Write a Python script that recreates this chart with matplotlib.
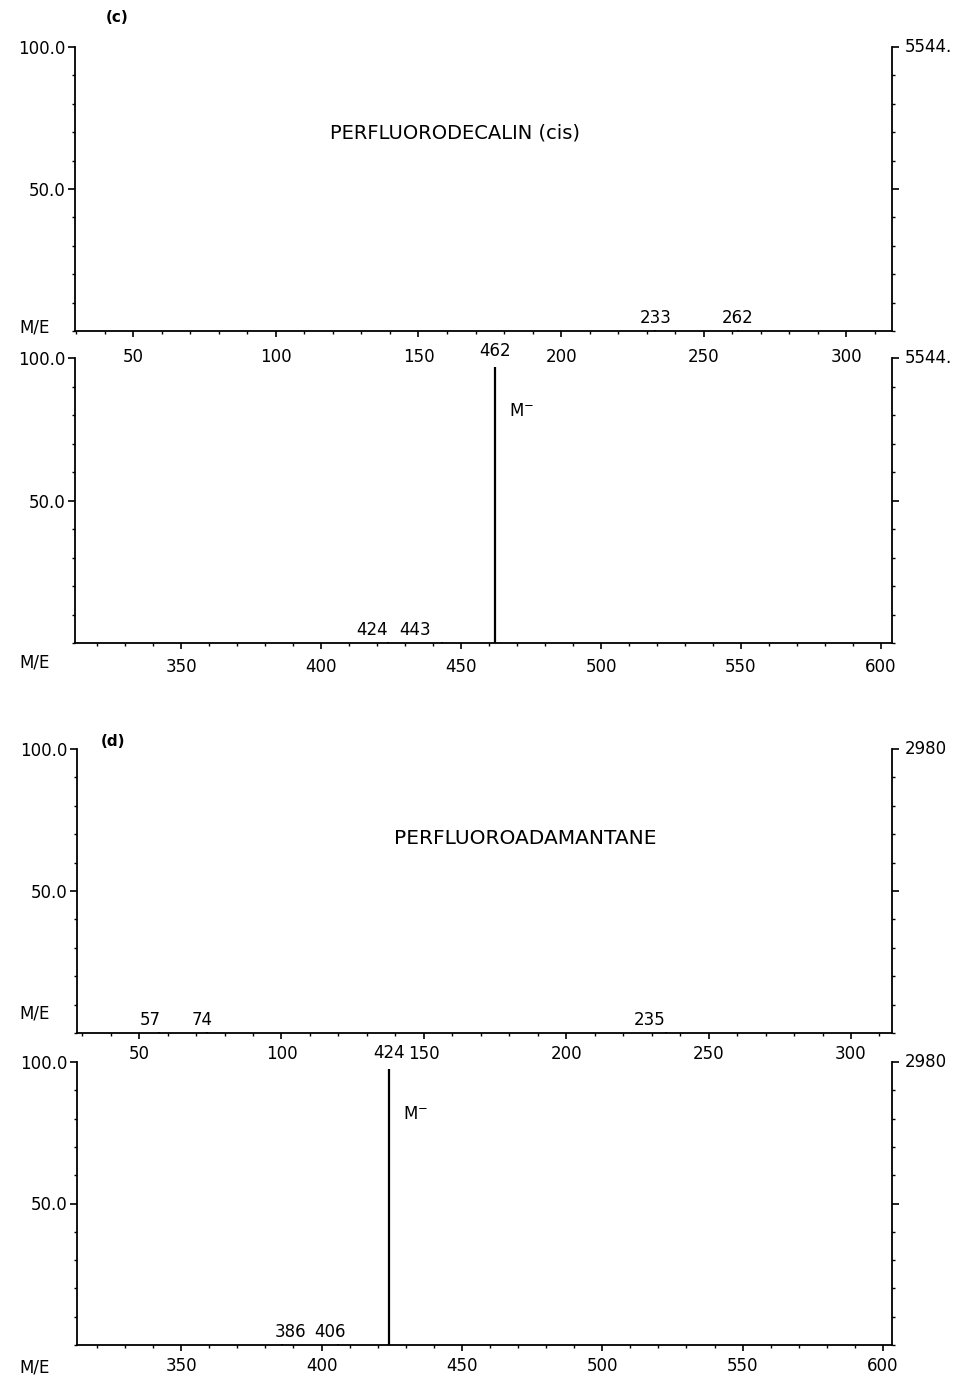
import matplotlib
matplotlib.use("Agg")
import matplotlib.pyplot as plt
from matplotlib.ticker import MultipleLocator, FixedLocator

plt.rcParams['font.family'] = ['DejaVu Sans']
plt.rcParams['font.size'] = 12

# (c) perfluorodecalin (cis), full scale 5544.
c_low_mz = [233, 262]
c_low_int = [0.4, 0.4]
c_high_mz = [424, 443, 462]
c_high_int = [0.4, 0.5, 97]
# (d) perfluoroadamantane, full scale 2980
d_low_mz = [57, 74, 235]
d_low_int = [0.4, 0.4, 0.4]
d_high_mz = [386, 406, 424]
d_high_int = [0.4, 0.5, 97.5]

# horizontal nudge of the small-peak labels (points), as printed on the chart
label_shift = {424: -12, 443: -19, 57: -6, 74: -4, 235: -12, 386: 6, 406: -6}

W, H = 956, 1376
fig = plt.figure(figsize=(W / 100, H / 100), dpi=100)


def fx(px):
    return px / W


def fy(py):
    return 1 - py / H


def panel(x0, x1, ytop, ybot, xlim, mz, inten, scale, xpad, mol=None):
    ax = fig.add_axes([fx(x0), fy(ybot), fx(x1 - x0), (ybot - ytop) / H])
    ax.patch.set_visible(False)
    ax.set_xlim(*xlim)
    ax.set_ylim(0, 100)
    ax.spines['top'].set_visible(False)
    for s in ['left', 'right', 'bottom']:
        ax.spines[s].set_linewidth(1.3)
    ax.vlines(mz, 0, inten, colors='black', linewidth=1.6)
    for m, v in zip(mz, inten):
        if m == mol:
            ax.annotate(str(m), (m, v), xytext=(0, 5), textcoords='offset points',
                        ha='center', va='bottom')
            ax.annotate('M$^{-}$', (m, v), xytext=(10, -32), textcoords='offset points',
                        ha='left', va='center')
        else:
            ax.annotate(str(m), (m, 0), xytext=(label_shift.get(m, 0), 3),
                        textcoords='offset points', ha='center', va='bottom')
    lo = (int(xlim[0]) // 50 + 1) * 50
    ax.xaxis.set_major_locator(FixedLocator(list(range(lo, int(xlim[1]) + 1, 50))))
    ax.xaxis.set_minor_locator(MultipleLocator(10))
    ax.yaxis.set_major_locator(FixedLocator([50, 100]))
    ax.yaxis.set_minor_locator(MultipleLocator(10))
    ax.set_yticklabels(['50.0', '100.0'])
    ax.tick_params(axis='x', which='major', direction='out', length=4, width=1.2, pad=xpad)
    ax.tick_params(axis='x', which='minor', direction='out', length=2.5, width=1)
    ax.tick_params(axis='y', which='major', direction='out', length=5, width=1.2,
                   left=True, right=True, pad=2)
    ax.tick_params(axis='y', which='minor', direction='out', length=2.5, width=1,
                   left=True, right=True)
    ax.annotate(scale, (1.0, 1.0), xycoords='axes fraction', xytext=(9, 0),
                textcoords='offset points', ha='left', va='center')
    return ax


panel(75, 892, 47, 331, (29.6, 316), c_low_mz, c_low_int, '5544.', 8)
panel(75, 892, 358, 643, (312, 604), c_high_mz, c_high_int, '5544.', 7, mol=462)
panel(77, 892, 749, 1033, (28.2, 314.4), d_low_mz, d_low_int, '2980', 4.5)
panel(77, 892, 1062, 1345, (312.9, 603.2), d_high_mz, d_high_int, '2980', 4.5, mol=424)

for y in [327, 662, 1013, 1368]:
    fig.text(fx(35), fy(y), 'M/E', ha='center', va='center')

fig.text(fx(117), fy(18), '(c)', ha='center', va='center', fontsize=11, fontweight='bold')
fig.text(fx(113), fy(741), '(d)', ha='center', va='center', fontsize=11, fontweight='bold')
fig.text(fx(455), fy(133), 'PERFLUORODECALIN (cis)', ha='center', va='center', fontsize=14)
fig.text(fx(525), fy(838), 'PERFLUOROADAMANTANE', ha='center', va='center', fontsize=14.5)

fig.savefig('out.png', dpi=100)
